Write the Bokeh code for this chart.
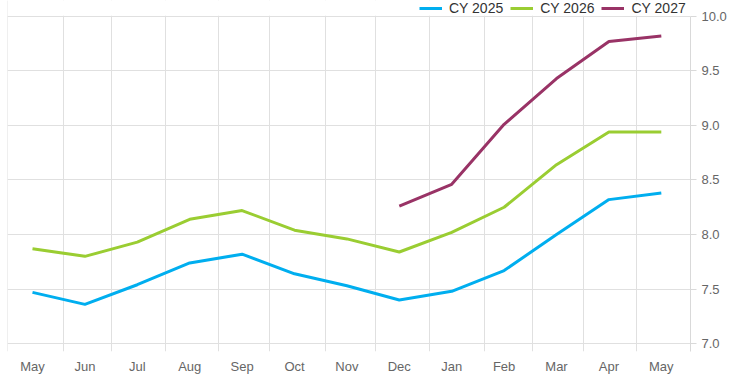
from bokeh.plotting import figure
from bokeh.models import Range1d, LinearAxis, FixedTicker, Legend, LegendItem, Grid, PrintfTickFormatter, BoxAnnotation
from bokeh.embed import file_html
from bokeh.resources import INLINE

months = ["May", "Jun", "Jul", "Aug", "Sep", "Oct", "Nov", "Dec", "Jan", "Feb", "Mar", "Apr", "May"]
cy2025 = [7.47, 7.36, 7.54, 7.74, 7.82, 7.64, 7.53, 7.40, 7.48, 7.67, 8.00, 8.32, 8.38]
cy2026 = [7.87, 7.80, 7.93, 8.14, 8.22, 8.04, 7.96, 7.84, 8.02, 8.25, 8.64, 8.94, 8.94]
cy2027_months_idx = [7, 8, 9, 10, 11, 12]
cy2027 = [8.26, 8.46, 9.01, 9.43, 9.77, 9.82]
y_ticks = [7.0, 7.5, 8.0, 8.5, 9.0, 9.5, 10.0]
series_names = ["CY 2025", "CY 2026", "CY 2027"]

FONT = "Liberation Sans"
x_idx = list(range(len(months)))
y_top = max(y_ticks)

p = figure(width=729, height=376, output_backend="svg", toolbar_location=None,
           x_range=Range1d(-0.477, 12.557), y_range=Range1d(6.928, 10.145),
           x_axis_location=None, y_axis_location=None,
           min_border_left=7, min_border_right=0, min_border_top=0, min_border_bottom=0)
p.outline_line_color = None
p.background_fill_color = "white"
p.border_fill_color = "white"
p.xgrid.visible = False
p.ygrid.visible = False

xaxis = LinearAxis(ticker=FixedTicker(ticks=x_idx),
                   major_label_overrides={i: m for i, m in enumerate(months)})
xaxis.axis_line_color = None
xaxis.major_tick_line_color = None
xaxis.minor_tick_line_color = None
xaxis.major_label_text_font = FONT
xaxis.major_label_text_font_size = "13px"
xaxis.major_label_text_color = "#666666"
xaxis.major_label_standoff = 1
p.add_layout(xaxis, "below")

yaxis = LinearAxis(ticker=FixedTicker(ticks=y_ticks), formatter=PrintfTickFormatter(format="%.1f"),
                   bounds=(6.928, y_top))
yaxis.axis_line_color = "#d9d9d9"
yaxis.major_tick_line_color = "#d9d9d9"
yaxis.major_tick_out = 6
yaxis.major_tick_in = 0
yaxis.minor_tick_line_color = None
yaxis.major_label_text_font = FONT
yaxis.major_label_text_font_size = "13px"
yaxis.major_label_text_color = "#666666"
yaxis.major_label_standoff = 5
p.add_layout(yaxis, "right")

xgrid = Grid(dimension=0, ticker=FixedTicker(ticks=[-0.47, 0.59, 1.51, 2.54, 3.55, 4.52, 5.59, 6.55, 7.58, 8.63, 9.54, 10.52, 11.53]),
             grid_line_color="#e0e0e0", grid_line_width=1)
ygrid = Grid(dimension=1, ticker=FixedTicker(ticks=y_ticks), grid_line_color="#e0e0e0", grid_line_width=1)
p.add_layout(xgrid)
p.add_layout(ygrid)

r1 = p.line(x_idx, cy2025, line_color="#00aeef", line_width=3)
r2 = p.line(x_idx, cy2026, line_color="#9acd32", line_width=3)
r3 = p.line(cy2027_months_idx, cy2027, line_color="#993366", line_width=3)

# white mask above the top gridline (legend area)
mask = BoxAnnotation(bottom=y_top + 0.006, fill_color="white", fill_alpha=1.0, line_color=None)
p.add_layout(mask)

legend = Legend(items=[LegendItem(label=series_names[0], renderers=[r1]),
                       LegendItem(label=series_names[1], renderers=[r2]),
                       LegendItem(label=series_names[2], renderers=[r3])],
                orientation="horizontal", location=(412, 335),
                label_text_font=FONT, label_text_font_size="14px", label_text_color="#333333",
                glyph_width=23, glyph_height=12, label_height=12, label_standoff=7, spacing=7,
                padding=0, margin=0, border_line_color=None, background_fill_alpha=0)
p.add_layout(legend)

open("out.html", "w").write(file_html(p, INLINE))
